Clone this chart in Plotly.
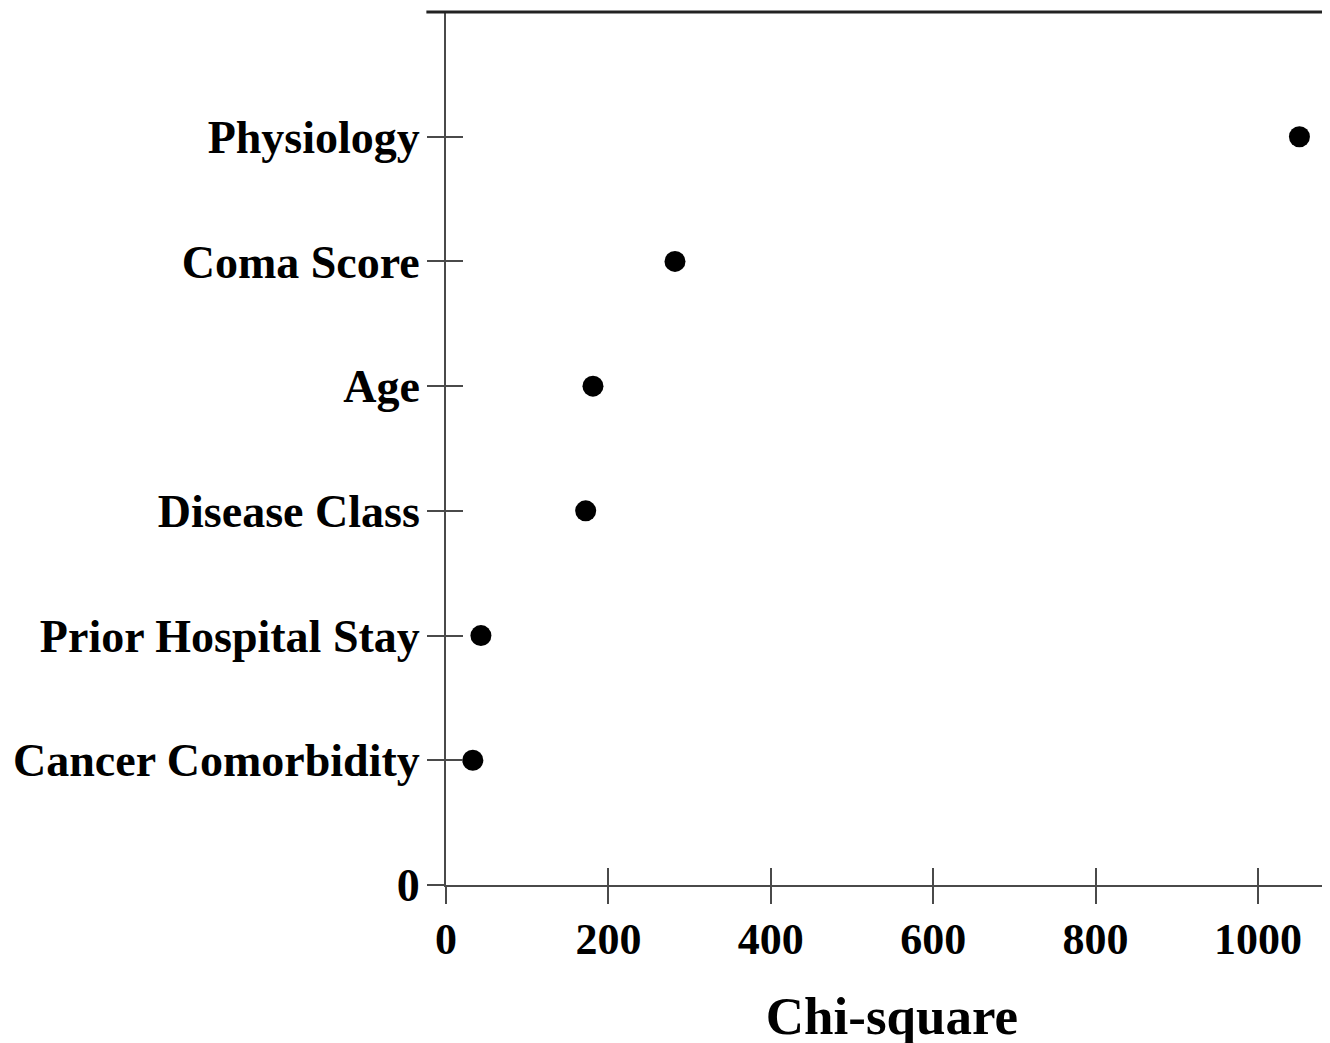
import plotly.graph_objects as go

categories = ["Cancer Comorbidity", "Prior Hospital Stay", "Disease Class", "Age", "Coma Score", "Physiology"]
chi_square = [33, 43, 172, 181, 282, 1051]
positions = [1, 2, 3, 4, 5, 6]
x_ticks = [0, 200, 400, 600, 800, 1000]
y_tickvals = [0] + positions
y_ticktext = ["0"] + categories

FONT = "Liberation Serif"
LINE = "#4a4a4a"

fig = go.Figure()
fig.add_trace(go.Scatter(
    x=chi_square, y=positions, mode="markers",
    marker=dict(color="black", size=21, line=dict(width=0)),
    showlegend=False, hoverinfo="x+y",
))
# invisible companion trace so the overlay axes (inward ticks) are drawn
fig.add_trace(go.Scatter(
    x=chi_square, y=positions, mode="markers", xaxis="x2", yaxis="y2",
    marker=dict(opacity=0), showlegend=False, hoverinfo="skip",
))

xr = [0, 1098.5]
yr = [0, 7]
fig.update_layout(
    width=1330, height=1043,
    margin=dict(l=438, r=0, t=4, b=166),
    paper_bgcolor="white", plot_bgcolor="white",
    font=dict(family=FONT, color="black"),
    xaxis=dict(
        range=xr, tickvals=x_ticks, ticks="outside", ticklen=17, tickwidth=2,
        tickcolor=LINE, showline=True, linecolor=LINE, linewidth=2,
        mirror=False, showgrid=False, zeroline=False,
        tickfont=dict(family=FONT, size=44, color="black", weight="bold"),
        ticklabelstandoff=-3,
        title=dict(text="<b>Chi-square</b>", font=dict(family=FONT, size=53, color="black"), standoff=34),
    ),
    yaxis=dict(
        range=yr, tickvals=y_tickvals, ticktext=y_ticktext, ticks="outside",
        ticklen=17, tickwidth=2, tickcolor=LINE, showline=True, linecolor=LINE,
        linewidth=2, showgrid=False, zeroline=False,
        tickfont=dict(family=FONT, size=46, color="black", weight="bold"),
        ticklabelstandoff=-2,
    ),
    xaxis2=dict(
        range=xr, tickvals=x_ticks, ticks="inside", ticklen=17, tickwidth=2,
        tickcolor=LINE, showticklabels=False, showline=False, showgrid=False,
        zeroline=False, overlaying="x", anchor="y",
        side="bottom",
    ),
    yaxis2=dict(
        range=yr, tickvals=y_tickvals, ticks="inside", ticklen=17, tickwidth=2,
        tickcolor=LINE, showticklabels=False, showline=False, showgrid=False,
        zeroline=False, overlaying="y", anchor="x", side="left",
    ),
    shapes=[dict(type="line", xref="paper", yref="paper", x0=-0.022, x1=1, y0=1, y1=1,
                 line=dict(color="#222", width=3))],
)

fig.write_html("out.html")
